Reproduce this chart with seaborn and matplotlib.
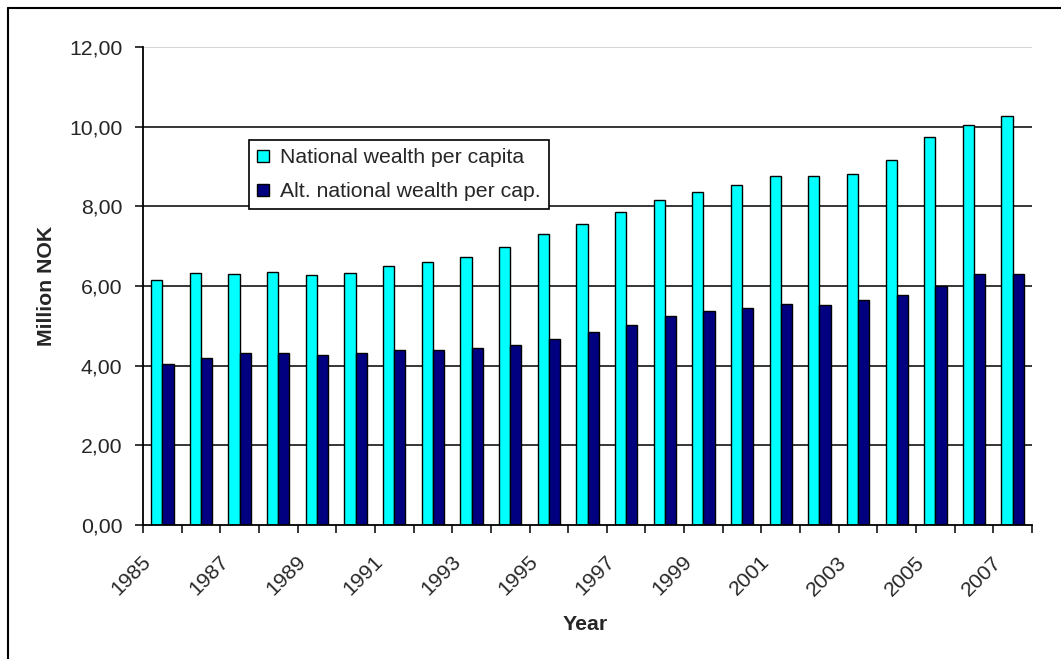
import matplotlib
matplotlib.use("Agg")
import matplotlib.pyplot as plt
import matplotlib.transforms as mtransforms
from matplotlib.lines import Line2D
from matplotlib.ticker import FuncFormatter, FixedLocator
import seaborn as sns
import pandas as pd

# Wealth per capita, million NOK
years = list(range(1985, 2008))
national_wealth = [6.14, 6.32, 6.31, 6.36, 6.27, 6.32, 6.49, 6.59, 6.73, 6.99,
                   7.30, 7.56, 7.86, 8.17, 8.36, 8.54, 8.75, 8.75, 8.80, 9.16,
                   9.73, 10.05, 10.27]
alt_national_wealth = [4.04, 4.18, 4.31, 4.31, 4.27, 4.31, 4.40, 4.40, 4.45, 4.53,
                       4.66, 4.84, 5.02, 5.24, 5.38, 5.46, 5.56, 5.52, 5.65, 5.78,
                       6.00, 6.31, 6.31]
series_names = ["National wealth per capita", "Alt. national wealth per cap."]
series_colors = ["#00FFFF", "#000080"]
y_ticks = [0, 2, 4, 6, 8, 10, 12]

df = pd.DataFrame({
    "Year": [str(y) for y in years] * 2,
    "Value": national_wealth + alt_national_wealth,
    "Series": [series_names[0]] * len(years) + [series_names[1]] * len(years),
})

sns.set_theme(style="white")
plt.rcParams["font.family"] = ["Liberation Sans", "DejaVu Sans"]
FS = 15.3

W, H = 1061, 659
fig = plt.figure(figsize=(W / 100, H / 100), dpi=100)
ax = fig.add_axes([143 / W, (H - 525) / H, (1032 - 143) / W, (525 - 47) / H])

sns.barplot(data=df, x="Year", y="Value", hue="Series", palette=series_colors,
            width=0.58, edgecolor="black", linewidth=1.0, saturation=1,
            dodge=True, legend=False, ax=ax, zorder=3)

ax.set_xlim(-0.5, len(years) - 0.5)
ax.set_ylim(0, 12)

# horizontal gridlines
for v in y_ticks[1:]:
    ax.axhline(v, color="#c8c8c8" if v == 12 else "black", lw=1.1, zorder=1)

for s in ["top", "right"]:
    ax.spines[s].set_visible(False)
for s in ["left", "bottom"]:
    ax.spines[s].set_color("black")
    ax.spines[s].set_linewidth(1.3)
    ax.spines[s].set_zorder(4)

# y axis
ax.set_yticks(y_ticks)
ax.yaxis.set_major_formatter(FuncFormatter(lambda v, p: f"{v:.2f}".replace(".", ",")))
ax.tick_params(axis="y", which="major", direction="out", length=5.5, width=1.1,
               color="black", pad=9.5, labelsize=FS, left=True)

# x axis: ticks on category boundaries, labels on every second year
ax.xaxis.set_minor_locator(FixedLocator([i - 0.5 for i in range(len(years) + 1)]))
ax.tick_params(axis="x", which="minor", direction="out", length=5.5, width=1.1,
               color="black", bottom=True)
label_pos = list(range(0, len(years), 2))
ax.set_xticks(label_pos)
ax.set_xticklabels([str(years[i]) for i in label_pos])
ax.tick_params(axis="x", which="major", length=0, pad=24.5, labelsize=FS)
offset = mtransforms.ScaledTranslation(-0.14, 0, fig.dpi_scale_trans)
for lab in ax.get_xticklabels():
    lab.set_rotation(45)
    lab.set_ha("right")
    lab.set_va("center")
    lab.set_rotation_mode("anchor")
    lab.set_transform(lab.get_transform() + offset)

ax.set_xlabel("Year", fontsize=FS, fontweight="bold", va="center")
ax.xaxis.set_label_coords((585 - 143) / (1032 - 143), (525 - 625) / (525 - 47))
ax.set_ylabel("Million NOK", fontsize=FS, fontweight="bold", va="center")
ax.yaxis.set_label_coords((47 - 143) / (1032 - 143), 0.5)

# legend
handles = [Line2D([], [], marker="s", linestyle="none", markersize=8,
                  markerfacecolor=c, markeredgecolor="black", markeredgewidth=1.0)
           for c in series_colors]
leg = ax.legend(handles, series_names, loc="upper left",
                bbox_to_anchor=((249 - 143) / (1032 - 143), (525 - 140) / (525 - 47)),
                borderaxespad=0, fontsize=FS, frameon=True, fancybox=False,
                edgecolor="black", framealpha=1, handlelength=0.6,
                handletextpad=0.5, labelspacing=0.72, borderpad=0.38)
leg.get_frame().set_linewidth(1.2)
leg.set_zorder(5)

# outer chart frame
fig.add_artist(Line2D([8 / W, 1.0], [1 - 8 / H, 1 - 8 / H], color="black", lw=1.5,
                      transform=fig.transFigure))
fig.add_artist(Line2D([8 / W, 8 / W], [0.0, 1 - 8 / H], color="black", lw=1.5,
                      transform=fig.transFigure))

fig.savefig("out.png", dpi=100)
